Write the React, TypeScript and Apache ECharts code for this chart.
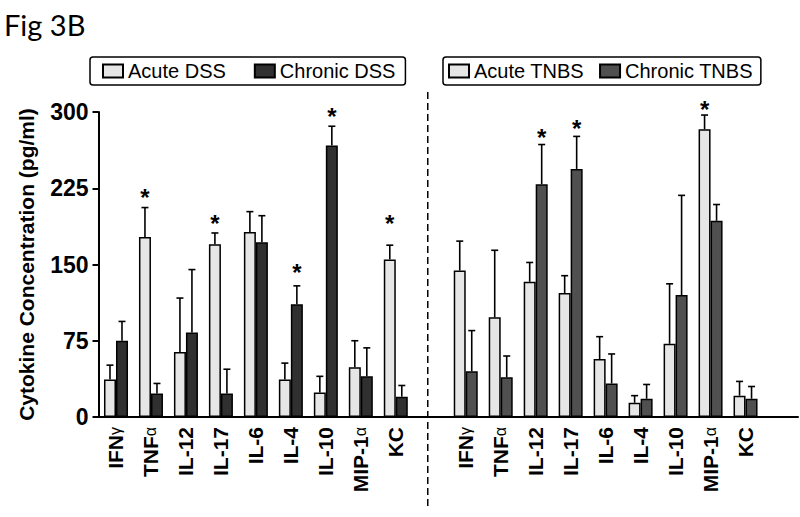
import React, { useEffect, useRef } from "react";
import * as echarts from "echarts";

const cytokines = ["IFNγ", "TNFα", "IL-12", "IL-17", "IL-6", "IL-4", "IL-10", "MIP-1α", "KC"];

// DSS model (left panel)
const acuteDSS = [37, 177, 64, 170, 182, 37, 24, 49, 155];
const acuteDSSErr = [51, 206, 117, 181, 202, 53, 40, 75, 169];
const chronicDSS = [75, 23, 83, 23, 172, 111, 267, 40, 20];
const chronicDSSErr = [94, 33, 145, 47, 198, 129, 286, 68, 31];
const acuteDSSStar = [null, 222, null, 196, null, null, null, null, 196];
const chronicDSSStar = [null, null, null, null, null, 148, 301, null, null];

// TNBS model (right panel)
const acuteTNBS = [144, 98, 133, 122, 57, 14, 72, 283, 21];
const acuteTNBSErr = [173, 164, 152, 139, 79, 21, 131, 297, 35];
const chronicTNBS = [45, 39, 229, 244, 33, 18, 120, 193, 18];
const chronicTNBSErr = [85, 60, 268, 276, 62, 32, 218, 209, 30];
const acuteTNBSStar = [null, null, null, null, null, null, null, 308, null];
const chronicTNBSStar = [null, null, 281, 290, null, null, null, null, null];

const yTicks = [0, 75, 150, 225, 300];

const FONT = "Arial, Liberation Sans, Helvetica, sans-serif";
const BAR_W = 12;

export default function App() {
  const ref = useRef<HTMLDivElement>(null);

  useEffect(() => {
    if (!ref.current) return;
    const chart = echarts.init(ref.current, undefined, { renderer: "svg" });

    const n = cytokines.length;
    const xCats = [...cytokines, "", ...cytokines, ""];
    const total = xCats.length;
    const blank = () => new Array(total).fill("-");

    const place = (arr: (number | null)[], start: number) => {
      const out: any[] = blank();
      arr.forEach((v, i) => (out[start + i] = v == null ? "-" : v));
      return out;
    };

    const acuteDSSData = place(acuteDSS, 0);
    const chronicDSSData = place(chronicDSS, 0);
    const acuteTNBSData = place(acuteTNBS, n + 1);
    const chronicTNBSData = place(chronicTNBS, n + 1);

    const errData = (vals: number[], errs: number[], stars: (number | null)[], start: number) =>
      vals.map((v, i) => [start + i, v, errs[i], stars[i] == null ? -1 : stars[i]]);

    const acuteErr = [
      ...errData(acuteDSS, acuteDSSErr, acuteDSSStar, 0),
      ...errData(acuteTNBS, acuteTNBSErr, acuteTNBSStar, n + 1),
    ];
    const chronicErr = [
      ...errData(chronicDSS, chronicDSSErr, chronicDSSStar, 0),
      ...errData(chronicTNBS, chronicTNBSErr, chronicTNBSStar, n + 1),
    ];

    const makeRender = (offset: number) => (params: any, api: any) => {
      const x = api.value(0);
      const top = api.value(1);
      const err = api.value(2);
      const star = api.value(3);
      const p0 = api.coord([x, top]);
      const p1 = api.coord([x, err]);
      const cx = p0[0] + offset;
      const children: any[] = [
        {
          type: "line",
          shape: { x1: cx, y1: p0[1], x2: cx, y2: p1[1] },
          style: { stroke: "#000", lineWidth: 1.6 },
        },
        {
          type: "line",
          shape: { x1: cx - 3.5, y1: p1[1], x2: cx + 3.5, y2: p1[1] },
          style: { stroke: "#000", lineWidth: 1.6 },
        },
      ];
      if (star >= 0) {
        const ps = api.coord([x, star]);
        children.push({
          type: "text",
          style: {
            text: "*",
            x: cx,
            y: ps[1] + 6,
            align: "center",
            verticalAlign: "middle",
            fill: "#000",
            font: `bold 24px ${FONT}`,
          },
        });
      }
      return { type: "group", children };
    };

    const barStyle = (color: string) => ({
      color,
      borderColor: "#000",
      borderWidth: 1.5,
    });

    const LIGHT = "#e6e6e6";
    const DARK_L = "#303030";
    const DARK_R = "#505050";

    const legendBase = {
      orient: "horizontal",
      top: 57,
      borderColor: "#000",
      borderWidth: 1.5,
      borderRadius: 3,
      icon: "rect",
      itemWidth: 20,
      itemHeight: 13,
      selectedMode: false,
      textStyle: { fontSize: 20, color: "#000", fontFamily: FONT },
    };

    const option: any = {
      animation: false,
      backgroundColor: "#fff",
      title: {
        text: "Fig 3B",
        left: -1,
        top: 5,
        textStyle: { fontFamily: "Lato, Open Sans, sans-serif", fontSize: 29, fontWeight: "normal", color: "#000" },
      },
      legend: [
        { ...legendBase, data: ["Acute DSS", "Chronic DSS"], left: 90, padding: [4, 10, 4, 12], itemGap: 28 },
        { ...legendBase, data: ["Acute TNBS", "Chronic TNBS"], left: 443, padding: [4, 8, 4, 5], itemGap: 15 },
      ],
      grid: { left: 98.5, right: 2, top: 112, bottom: 100, containLabel: false },
      xAxis: {
        type: "category",
        data: xCats,
        axisLine: { show: true, lineStyle: { color: "#000", width: 2 } },
        axisTick: { show: false },
        axisLabel: {
          interval: 0,
          rotate: 90,
          margin: 10,
          color: "#000",
          fontFamily: FONT,
          fontWeight: "bold",
          fontSize: 21,
          formatter: (v: string) => v.replace(/([γα])/g, "{g|$1}"),
          rich: {
            g: { fontSize: 16, fontWeight: "normal", color: "#000", fontFamily: FONT },
          },
        },
      },
      yAxis: {
        type: "value",
        min: yTicks[0],
        max: yTicks[yTicks.length - 1],
        interval: yTicks[1] - yTicks[0],
        name: "Cytokine Concentration (pg/ml)",
        nameLocation: "middle",
        nameGap: 62,
        nameTextStyle: { fontFamily: FONT, fontWeight: "bold", fontSize: 21, color: "#000" },
        axisLine: { show: true, lineStyle: { color: "#000", width: 2 } },
        axisTick: { show: true, inside: false, length: 6, lineStyle: { color: "#000", width: 2 } },
        splitLine: { show: false },
        axisLabel: { color: "#000", fontFamily: FONT, fontWeight: "bold", fontSize: 23, margin: 10 },
      },
      series: [
        { name: "Acute DSS", type: "bar", stack: "acute", data: acuteDSSData, barWidth: BAR_W, barGap: "0%", itemStyle: barStyle(LIGHT) },
        { name: "Chronic DSS", type: "bar", stack: "chronic", data: chronicDSSData, barWidth: BAR_W, barGap: "0%", itemStyle: barStyle(DARK_L) },
        { name: "Acute TNBS", type: "bar", stack: "acute", data: acuteTNBSData, barWidth: BAR_W, barGap: "0%", itemStyle: barStyle(LIGHT) },
        { name: "Chronic TNBS", type: "bar", stack: "chronic", data: chronicTNBSData, barWidth: BAR_W, barGap: "0%", itemStyle: barStyle(DARK_R) },
        {
          name: "acuteErr",
          type: "custom",
          data: acuteErr,
          encode: { x: 0, y: [1, 2] },
          renderItem: makeRender(-BAR_W / 2),
          z: 5,
          silent: true,
        },
        {
          name: "chronicErr",
          type: "custom",
          data: chronicErr,
          encode: { x: 0, y: [1, 2] },
          renderItem: makeRender(BAR_W / 2),
          z: 5,
          silent: true,
        },
      ],
    };

    chart.setOption(option);

    const sepX = chart.convertToPixel({ xAxisIndex: 0 }, n) as number;
    chart.setOption({
      graphic: [
        {
          type: "line",
          shape: { x1: sepX - 3, y1: 92, x2: sepX - 3, y2: 507 },
          style: { stroke: "#000", lineWidth: 1.5, lineDash: [7, 4] },
          z: 10,
        },
      ],
    });

    return () => chart.dispose();
  }, []);

  return <div ref={ref} style={{ position: "fixed", left: 0, top: 0, width: 800, height: 517 }} />;
}
